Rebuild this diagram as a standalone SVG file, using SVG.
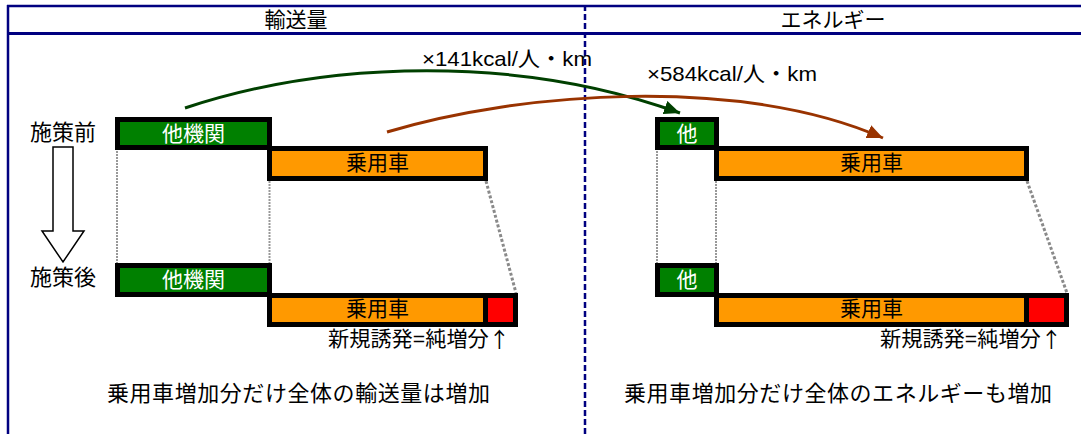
<svg xmlns="http://www.w3.org/2000/svg" width="1081" height="434" viewBox="0 0 1081 434">
<style>
.t{font-family:"Liberation Sans","Noto Sans CJK JP",sans-serif;font-size:21px;fill:#000}
.j{font-family:"Noto Sans CJK JP",sans-serif}
.c{text-anchor:middle;dominant-baseline:central}
.w{fill:#fff}
.box{stroke:#000;stroke-width:5}
.g{fill:#008000}
.o{fill:#FF9900}
.r{fill:#FF0000}
.dv{stroke:#999;stroke-width:2;stroke-dasharray:2 1;fill:none}
.dd{stroke:#8a8a8a;stroke-width:3;stroke-dasharray:3 2;fill:none}
.frame{stroke:#000080;fill:none}
</style>
<defs>
<marker id="ag" markerUnits="userSpaceOnUse" markerWidth="18" markerHeight="14" refX="16" refY="7" orient="auto"><path d="M0,0 L16,7 L0,14 Z" fill="#004000"/></marker>
<marker id="ab" markerUnits="userSpaceOnUse" markerWidth="18" markerHeight="14" refX="16" refY="7" orient="auto"><path d="M0,0 L16,7 L0,14 Z" fill="#993300"/></marker>
</defs>
<rect width="1081" height="434" fill="#fff"/>
<g id="frame">
<line class="frame" x1="7" y1="6" x2="1081" y2="6" stroke-width="2.5"/>
<line class="frame" x1="8" y1="5" x2="8" y2="434" stroke-width="2.5"/>
<line class="frame" x1="7" y1="33.5" x2="1081" y2="33.5" stroke-width="3"/>
<line class="frame" x1="585" y1="5" x2="585" y2="434" stroke-width="2.5" stroke-dasharray="6 3"/>
<text class="t c" x="296" y="19">輸送量</text>
<text class="t c" x="833" y="19">エネルギー</text>
</g>
<g id="labels">
<text class="t c" x="63" y="132" style="font-size:22px">施策前</text>
<text class="t c" x="63" y="277" style="font-size:22px">施策後</text>
<polygon points="53,147 73,147 73,231 84,231 63,262 42,231 53,231" fill="#fff" stroke="#000" stroke-width="1.5"/>
</g>
<g id="guides">
<line class="dv" x1="117" y1="151" x2="117" y2="263"/>
<line class="dv" x1="269.5" y1="181" x2="269.5" y2="293"/>
<line class="dd" x1="486" y1="181" x2="516" y2="293"/>
<line class="dv" x1="657" y1="151" x2="657" y2="263"/>
<line class="dv" x1="716" y1="181" x2="716" y2="293"/>
<line class="dd" x1="1027" y1="181" x2="1067" y2="293"/>
</g>
<g id="left-before-other"><rect class="box g" x="117.5" y="119.5" width="152" height="28"/><text class="t c w" x="193.5" y="133">他機関</text></g>
<g id="left-before-car"><rect class="box o" x="269.5" y="148.5" width="216" height="30"/><text class="t c" x="377.5" y="162.5">乗用車</text></g>
<g id="left-after-other"><rect class="box g" x="117.5" y="265.5" width="152" height="29"/><text class="t c w" x="193.5" y="279">他機関</text></g>
<g id="left-after-car"><rect class="box o" x="269.5" y="295.5" width="216" height="29"/><rect class="box r" x="485.5" y="295.5" width="30" height="29"/><text class="t c" x="377.5" y="308.5">乗用車</text></g>
<g id="right-before-other"><rect class="box g" x="657.5" y="119.5" width="59" height="28"/><text class="t c w" x="687" y="133">他</text></g>
<g id="right-before-car"><rect class="box o" x="716.5" y="148.5" width="310" height="30"/><text class="t c" x="871.5" y="162.5">乗用車</text></g>
<g id="right-after-other"><rect class="box g" x="657.5" y="265.5" width="59" height="29"/><text class="t c w" x="687" y="279">他</text></g>
<g id="right-after-car"><rect class="box o" x="716.5" y="295.5" width="310" height="29"/><rect class="box r" x="1026.5" y="295.5" width="40" height="29"/><text class="t c" x="871.5" y="308.5">乗用車</text></g>
<g id="connectors">
<path d="M185,108 C330,60 520,55 680,113" fill="none" stroke="#004000" stroke-width="3" marker-end="url(#ag)"/>
<path d="M387,132 C520,92 740,75 883,138" fill="none" stroke="#993300" stroke-width="3" marker-end="url(#ab)"/>
<text class="t" x="422" y="66" textLength="170" lengthAdjust="spacingAndGlyphs">×141kcal/人・km</text>
<text class="t" x="647" y="81" textLength="170" lengthAdjust="spacingAndGlyphs">×584kcal/人・km</text>
</g>
<g id="notes">
<text class="t" x="328" y="338" dominant-baseline="central" textLength="182" lengthAdjust="spacingAndGlyphs">新規誘発=純増分<tspan class="j">↑</tspan></text>
<text class="t" x="880" y="338" dominant-baseline="central" textLength="182" lengthAdjust="spacingAndGlyphs">新規誘発=純増分<tspan class="j">↑</tspan></text>
<text class="t" x="107" y="393" dominant-baseline="central" textLength="383" style="font-size:22px">乗用車増加分だけ全体の輸送量は増加</text>
<text class="t" x="624" y="393" dominant-baseline="central" textLength="428" style="font-size:22px">乗用車増加分だけ全体のエネルギーも増加</text>
</g>
</svg>
